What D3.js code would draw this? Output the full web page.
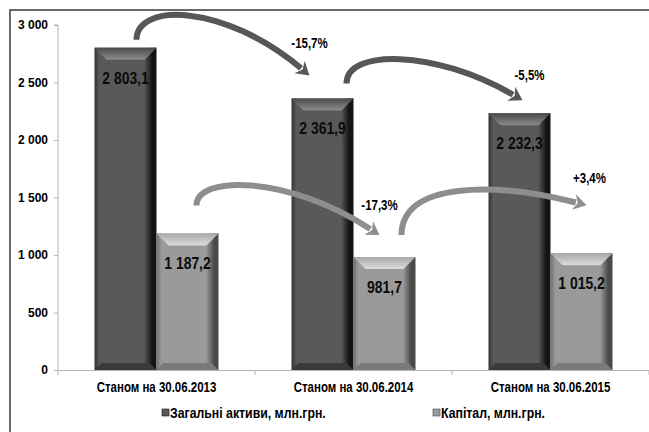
<!DOCTYPE html>
<html>
<head>
<meta charset="utf-8">
<script src="https://cdn.jsdelivr.net/npm/d3@7"></script>
<style>
  html, body { margin: 0; padding: 0; background: #fff; }
  svg { display: block; }
  .narrow { font-family: "Liberation Sans", Arial, sans-serif; font-weight: bold; }
</style>
</head>
<body>
<svg id="chart" width="649" height="432"></svg>
<script>
// Bank balance: total assets and equity at mid-year dates (UAH mln)
const categories = ["Станом на 30.06.2013", "Станом на 30.06.2014", "Станом на 30.06.2015"];
const seriesNames = ["Загальні активи, млн.грн.", "Капітал, млн.грн."];
const assets = [2803.1, 2361.9, 2232.3];
const capital = [1187.2, 981.7, 1015.2];
const yTicks = [0, 500, 1000, 1500, 2000, 2500, 3000];

const series = [
  { key: "assets", name: seriesNames[0], values: assets },
  { key: "capital", name: seriesNames[1], values: capital }
];

const svg = d3.select("#chart");
const plot = { left: 58, right: 649, top: 25, bottom: 370 };
const NARROW = 0.82; // horizontal squeeze to get a condensed face

const x0 = d3.scaleBand().domain(categories).range([plot.left, plot.right]).paddingInner(0).paddingOuter(0);
const x1 = d3.scaleBand().domain(series.map(s => s.key)).range([36.5, x0.bandwidth() - 36.5]).padding(0);
const y = d3.scaleLinear().domain([0, 3000]).range([plot.bottom, plot.top]);

const fmtNum = v => d3.format(",.1f")(v).replace(/,/g, " ").replace(".", ",");
const fmtPct = v => (v > 0 ? "+" : "") + d3.format(".1f")(v * 100).replace(".", ",").replace("−", "-") + "%";

// condensed text placed at (x, y)
function narrowText(parent, x, yy, txt, size, anchor) {
  return parent.append("g").attr("transform", `translate(${x},${yy}) scale(${NARROW},1)`)
    .append("text").attr("class", "narrow").attr("text-anchor", anchor || "middle")
    .attr("font-size", size).attr("fill", "#000").text(txt);
}

// gradients for bevelled bars
const defs = svg.append("defs");
const palettes = {
  assets:  { edgeL: "#333", body: "#595959", edgeR: "#141414", topA: "#4a4a4a", topB: "#8c8c8c", bottom: "#3a3a3a", arrow: "#575757" },
  capital: { edgeL: "#6e6e6e", body: "#9a9a9a", edgeR: "#4a4a4a", topA: "#a8a8a8", topB: "#dcdcdc", bottom: "#7a7a7a", arrow: "#8e8e8e" }
};
Object.entries(palettes).forEach(([k, p]) => {
  const g = defs.append("linearGradient").attr("id", "body-" + k).attr("x1", 0).attr("x2", 1).attr("y1", 0).attr("y2", 0);
  g.append("stop").attr("offset", "0%").attr("stop-color", p.edgeL);
  g.append("stop").attr("offset", "8%").attr("stop-color", p.body);
  g.append("stop").attr("offset", "80%").attr("stop-color", p.body);
  g.append("stop").attr("offset", "93%").attr("stop-color", p.edgeR);
  g.append("stop").attr("offset", "100%").attr("stop-color", p.edgeR);
  const t = defs.append("linearGradient").attr("id", "top-" + k).attr("x1", 0).attr("x2", 0).attr("y1", 0).attr("y2", 1);
  t.append("stop").attr("offset", "0%").attr("stop-color", p.topA);
  t.append("stop").attr("offset", "100%").attr("stop-color", p.topB);
});

// outer frame
svg.append("rect").attr("x", 10).attr("y", 10).attr("width", 680).attr("height", 460)
  .attr("fill", "none").attr("stroke", "#3a3a3a").attr("stroke-width", 1.5);

// axes
const yAxis = d3.axisLeft(y).tickValues(yTicks).tickSize(4).tickPadding(6)
  .tickFormat(v => d3.format(",")(v).replace(/,/g, " "));
const gy = svg.append("g").attr("transform", `translate(${plot.left},0)`).call(yAxis);
gy.select(".domain").attr("stroke", "#b5b5b5").attr("d", `M-4,${plot.top}H0V${plot.bottom}`);
gy.selectAll(".tick line").attr("stroke", "#b5b5b5");
gy.selectAll(".tick text").attr("font-family", "'Liberation Sans', Arial, sans-serif")
  .attr("font-weight", "bold").attr("font-size", 12).attr("fill", "#000");

const xAxis = d3.axisBottom(x0).tickSize(0).tickPadding(12);
const gx = svg.append("g").attr("transform", `translate(0,${plot.bottom})`).call(xAxis);
gx.select(".domain").attr("stroke", "#b5b5b5");
gx.selectAll(".tick text").attr("class", "narrow").attr("font-size", 14).attr("fill", "#000")
  .attr("transform", `scale(${NARROW},1)`);
// category separators
gx.selectAll(".sep").data(categories.concat([null])).enter().append("line")
  .attr("x1", (d, i) => plot.left + i * x0.bandwidth()).attr("x2", (d, i) => plot.left + i * x0.bandwidth())
  .attr("y1", 0).attr("y2", 5).attr("stroke", "#b5b5b5");

// bars
const barData = [];
categories.forEach((c, i) => series.forEach(s => barData.push({ cat: c, i, key: s.key, v: s.values[i] })));

const bars = svg.append("g").selectAll("g").data(barData).enter().append("g")
  .attr("transform", d => `translate(${x0(d.cat) + x1(d.key)},${y(d.v)})`);
const bw = x1.bandwidth();
const bevT = 12, bevB = 7;
bars.append("rect").attr("width", bw).attr("height", d => y(0) - y(d.v))
  .attr("fill", d => `url(#body-${d.key})`);
bars.append("path")
  .attr("d", `M0,0H${bw}L${bw - bevT},${bevT}H${bevT}Z`)
  .attr("fill", d => `url(#top-${d.key})`);
bars.append("path")
  .attr("d", d => { const h = y(0) - y(d.v); return `M0,${h}H${bw}L${bw - bevB},${h - bevB}H${bevB}Z`; })
  .attr("fill", d => palettes[d.key].bottom);
bars.each(function (d) {
  narrowText(d3.select(this), bw / 2, 36, fmtNum(d.v), 17).attr("fill", "#0a0a0a");
});

// change arrows between consecutive dates
const arrowLayout = {
  assets:  [ { t: [11, -8],  h: [-13, -23], peak: 21 }, { t: [24, -15], h: [3, -13], peak: 62 } ],
  capital: [ { t: [9, -28],  h: [-5, -22],  peak: 190 }, { t: [17, -22], h: [5, -48], peak: 195 } ]
};
const labelOffset = { assets: [ [0, -27], [7, -20] ], capital: [ [0, -25], [3, -22] ] };

const gArrows = svg.append("g");
series.forEach(s => {
  for (let i = 0; i < s.values.length - 1; i++) {
    const L = arrowLayout[s.key][i];
    const cxA = x0(categories[i]) + x1(s.key) + bw / 2;
    const cxB = x0(categories[i + 1]) + x1(s.key) + bw / 2;
    const p0 = [cxA + L.t[0], y(s.values[i]) + L.t[1]];
    const tip = [cxB + L.h[0], y(s.values[i + 1]) + L.h[1]];
    const dx = tip[0] - p0[0];
    const base = Math.max(p0[1], tip[1]);
    const cy = (L.peak - 0.25 * base) / 0.75;
    const c1 = [p0[0], cy];
    const c2 = [p0[0] + 0.5 * dx, cy];
    // direction at the tip
    let ux = tip[0] - c2[0], uy = tip[1] - c2[1];
    const len = Math.hypot(ux, uy); ux /= len; uy /= len;
    const headLen = 13, headHalf = 8;
    const end = [tip[0] - ux * headLen, tip[1] - uy * headLen];
    const col = palettes[s.key].arrow;
    gArrows.append("path")
      .attr("d", `M${p0[0]},${p0[1]}C${c1[0]},${c1[1]} ${c2[0]},${c2[1]} ${end[0] + ux * 2},${end[1] + uy * 2}`)
      .attr("fill", "none").attr("stroke", col).attr("stroke-width", 6);
    const nx = -uy, ny = ux;
    gArrows.append("path")
      .attr("d", `M${tip[0]},${tip[1]}L${end[0] + nx * headHalf},${end[1] + ny * headHalf}L${end[0] + ux * 4},${end[1] + uy * 4}L${end[0] - nx * headHalf},${end[1] - ny * headHalf}Z`)
      .attr("fill", col);
    const chg = s.values[i + 1] / s.values[i] - 1;
    const lo = labelOffset[s.key][i];
    narrowText(gArrows, tip[0] + lo[0], tip[1] + lo[1], fmtPct(chg), 14);
  }
});

// legend
const legendX = [162, 433];
const lg = svg.append("g").selectAll("g").data(series).enter().append("g")
  .attr("transform", (d, i) => `translate(${legendX[i]},418)`);
lg.append("rect").attr("x", 0).attr("y", -9).attr("width", 7).attr("height", 7)
  .attr("fill", d => palettes[d.key].body).attr("stroke", d => palettes[d.key].edgeR).attr("stroke-width", 0.6);
lg.each(function (d) {
  narrowText(d3.select(this), 8, 0, d.name, 15, "start");
});
</script>
</body>
</html>
